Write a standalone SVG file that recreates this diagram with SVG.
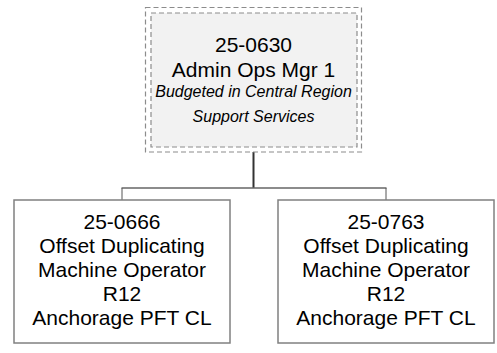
<svg xmlns="http://www.w3.org/2000/svg" width="497" height="353" viewBox="0 0 497 353">
<style>
.t{font-family:"Liberation Sans",Arial,sans-serif;font-size:21px;fill:#000;text-anchor:middle}
.i{font-size:16px;font-style:italic}
.box{fill:#fff;stroke:#808080;stroke-width:1.5}
.dash{stroke:#8c8c8c;stroke-width:1.2;stroke-dasharray:5,3}
</style>
<rect width="497" height="353" fill="#fff"/>
<g id="connectors">
<line x1="253.5" y1="152" x2="253.5" y2="188" stroke="#333" stroke-width="2"/>
<line x1="121.5" y1="188" x2="386.5" y2="188" stroke="#666" stroke-width="1.5"/>
<line x1="122" y1="188" x2="122" y2="200" stroke="#555" stroke-width="1"/>
<line x1="386" y1="188" x2="386" y2="200" stroke="#555" stroke-width="1"/>
</g>
<g id="node-25-0630">
<rect class="dash" x="145.5" y="7.5" width="216" height="144.5" fill="none"/>
<rect class="dash" x="151" y="13" width="206" height="134" fill="#f2f2f2"/>
<text class="t" x="253.5" y="52">25-0630</text>
<text class="t" x="253.5" y="77">Admin Ops Mgr 1</text>
<text class="t i" x="253.5" y="97">Budgeted in Central Region</text>
<text class="t i" x="253.5" y="122">Support Services</text>
</g>
<g id="node-25-0666">
<rect class="box" x="14" y="200" width="216" height="143"/>
<text class="t" x="122" y="229">25-0666</text>
<text class="t" x="122" y="253">Offset Duplicating</text>
<text class="t" x="122" y="277">Machine Operator</text>
<text class="t" x="122" y="301">R12</text>
<text class="t" x="122" y="325">Anchorage PFT CL</text>
</g>
<g id="node-25-0763">
<rect class="box" x="278" y="200" width="216" height="143"/>
<text class="t" x="386" y="229">25-0763</text>
<text class="t" x="386" y="253">Offset Duplicating</text>
<text class="t" x="386" y="277">Machine Operator</text>
<text class="t" x="386" y="301">R12</text>
<text class="t" x="386" y="325">Anchorage PFT CL</text>
</g>
</svg>
